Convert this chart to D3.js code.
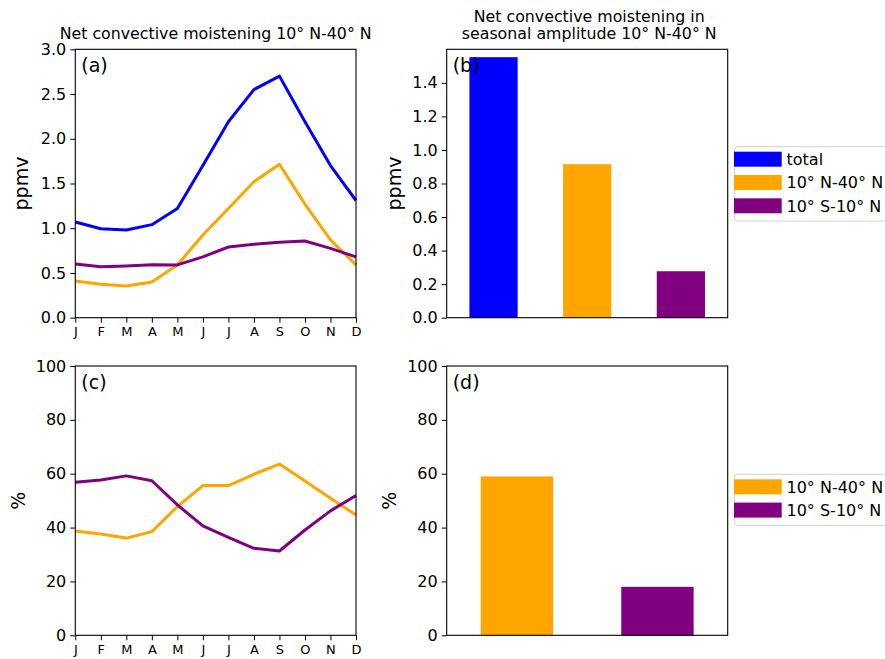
<!DOCTYPE html>
<html>
<head>
<meta charset="utf-8">
<script src="https://cdn.jsdelivr.net/npm/d3@7"></script>
<style>
  body { margin: 0; background: #fff; }
  svg { font-family: "DejaVu Sans", sans-serif; }
  .axis text { fill: #000; }
</style>
</head>
<body>
<div id="chart"></div>
<script>
const months = ["J", "F", "M", "A", "M", "J", "J", "A", "S", "O", "N", "D"];

// (a) net convective moistening, ppmv
const totalPpmv = [1.07, 0.995, 0.98, 1.04, 1.22, 1.70, 2.19, 2.55, 2.70, 2.19, 1.70, 1.31];
const nhPpmv    = [0.41, 0.373, 0.354, 0.40, 0.59, 0.924, 1.22, 1.52, 1.715, 1.27, 0.87, 0.59];
const eqPpmv    = [0.60, 0.57, 0.578, 0.592, 0.59, 0.68, 0.79, 0.82, 0.843, 0.857, 0.775, 0.68];

// (c) contribution, %
const nhPct = [38.7, 37.6, 36.1, 38.5, 47.8, 55.6, 55.6, 59.8, 63.6, 57.3, 50.9, 44.7];
const eqPct = [56.8, 57.7, 59.2, 57.4, 48.4, 40.6, 36.4, 32.3, 31.3, 39.1, 46.2, 51.9];

// (b) and (d) seasonal amplitude
const ampLabels = ["total", "10° N-40° N", "10° S-10° N"];
const ampPpmv = [1.553, 0.915, 0.277];
const pctLabels = ["10° N-40° N", "10° S-10° N"];
const ampPct = [59.0, 18.0];

const colors = { "total": "#0000ff", "10° N-40° N": "#ffa500", "10° S-10° N": "#800080" };

const width = 885, height = 659;

const svg = d3.select("#chart")
    .append("svg")
    .attr("width", width)
    .attr("height", height);

svg.append("rect").attr("width", width).attr("height", height).attr("fill", "#fff");

const panels = {
    a: { x: 75.3, y: 49.3, w: 280.7, h: 268.4 },
    b: { x: 446.7, y: 49.3, w: 281, h: 268.4 },
    c: { x: 75.3, y: 366, w: 280.7, h: 269.3 },
    d: { x: 446.7, y: 366, w: 281, h: 269.3 }
};

const styleAxis = (g, fontSize) => {
    g.select(".domain").remove();
    g.selectAll(".tick line").attr("stroke", "#000").attr("stroke-width", 1);
    g.selectAll(".tick text")
        .attr("font-size", fontSize)
        .attr("font-family", "DejaVu Sans")
        .attr("fill", "#000");
};

const frame = (g, p) => {
    g.append("rect")
        .attr("width", p.w)
        .attr("height", p.h)
        .attr("fill", "none")
        .attr("stroke", "#000")
        .attr("stroke-width", 1.1);
};

const panelLabel = (g, text, dx) => {
    g.append("text")
        .attr("x", dx)
        .attr("y", 23)
        .attr("font-size", "19px")
        .text(text);
};

const yLabel = (text, x, p) => {
    svg.append("text")
        .attr("transform", `translate(${x},${p.y + p.h / 2}) rotate(-90)`)
        .attr("text-anchor", "middle")
        .attr("font-size", "19px")
        .text(text);
};

// ---------- line panels ----------
const drawLines = (p, series, yMax, yTicks, fmt, label) => {
    const g = svg.append("g").attr("transform", `translate(${p.x},${p.y})`);

    const x = d3.scaleLinear().domain([0, 11]).range([0, p.w]);
    const y = d3.scaleLinear().domain([0, yMax]).range([p.h, 0]);

    const line = d3.line()
        .x((d, i) => x(i))
        .y(d => y(d));

    g.selectAll("path.series")
        .data(series)
        .join("path")
        .attr("class", "series")
        .attr("d", s => line(s.values))
        .attr("fill", "none")
        .attr("stroke", s => colors[s.name])
        .attr("stroke-width", 3)
        .attr("stroke-linejoin", "round");

    g.append("g")
        .attr("class", "axis")
        .attr("transform", `translate(0,${p.h})`)
        .call(d3.axisBottom(x)
            .tickValues(d3.range(12))
            .tickFormat(i => months[i])
            .tickSize(5)
            .tickPadding(4))
        .call(ax => styleAxis(ax, "13px"));

    g.append("g")
        .attr("class", "axis")
        .call(d3.axisLeft(y)
            .tickValues(yTicks)
            .tickFormat(d3.format(fmt))
            .tickSize(5)
            .tickPadding(4))
        .call(ax => styleAxis(ax, "16px"));

    frame(g, p);
    panelLabel(g, label, 6);
};

// ---------- bar panels ----------
const drawBars = (p, cats, values, yMax, yTicks, fmt, label) => {
    const g = svg.append("g").attr("transform", `translate(${p.x},${p.y})`);

    const x = d3.scaleBand()
        .domain(cats)
        .range([0, p.w])
        .paddingInner(0.485)
        .paddingOuter(0.2425);
    const y = d3.scaleLinear().domain([0, yMax]).range([p.h, 0]);

    g.selectAll("rect.bar")
        .data(cats)
        .join("rect")
        .attr("class", "bar")
        .attr("x", d => x(d))
        .attr("width", x.bandwidth())
        .attr("y", (d, i) => y(values[i]))
        .attr("height", (d, i) => p.h - y(values[i]))
        .attr("fill", d => colors[d]);

    g.append("g")
        .attr("class", "axis")
        .call(d3.axisLeft(y)
            .tickValues(yTicks)
            .tickFormat(d3.format(fmt))
            .tickSize(5)
            .tickPadding(4))
        .call(ax => styleAxis(ax, "16px"));

    frame(g, p);
    panelLabel(g, label, 6);
};

// ---------- legend ----------
const drawLegend = (items, top) => {
    const lg = svg.append("g").attr("transform", `translate(734.5,${top})`);
    const rowH = 23.3;

    lg.append("rect")
        .attr("x", 0)
        .attr("y", 0)
        .attr("width", 190)
        .attr("height", items.length * rowH + 4.5)
        .attr("rx", 3)
        .attr("fill", "#fff")
        .attr("fill-opacity", 0.8)
        .attr("stroke", "#d0d0d0")
        .attr("stroke-width", 1);

    lg.selectAll("rect.sw")
        .data(items)
        .join("rect")
        .attr("class", "sw")
        .attr("x", -0.5)
        .attr("y", (d, i) => 5 + i * rowH)
        .attr("width", 47.7)
        .attr("height", 15)
        .attr("fill", d => colors[d]);

    lg.selectAll("text")
        .data(items)
        .join("text")
        .attr("x", 52)
        .attr("y", (d, i) => 18.3 + i * rowH)
        .attr("font-size", "16px")
        .text(d => d);
};

drawLines(panels.a,
    [{ name: "total", values: totalPpmv },
     { name: "10° N-40° N", values: nhPpmv },
     { name: "10° S-10° N", values: eqPpmv }],
    3.0, d3.range(0, 3.01, 0.5), ".1f", "(a)");

drawBars(panels.b, ampLabels, ampPpmv, 1.6, d3.range(0, 1.41, 0.2), ".1f", "(b)");

drawLines(panels.c,
    [{ name: "10° N-40° N", values: nhPct },
     { name: "10° S-10° N", values: eqPct }],
    100, d3.range(0, 101, 20), "d", "(c)");

drawBars(panels.d, pctLabels, ampPct, 100, d3.range(0, 101, 20), "d", "(d)");

// titles
svg.append("text")
    .attr("x", panels.a.x + panels.a.w / 2)
    .attr("y", 39.3)
    .attr("text-anchor", "middle")
    .attr("font-size", "15.8px")
    .text("Net convective moistening 10° N-40° N");

const titleB = svg.append("text")
    .attr("x", panels.b.x + panels.b.w / 2 + 2)
    .attr("text-anchor", "middle")
    .attr("font-size", "15.8px");
titleB.append("tspan").attr("x", panels.b.x + panels.b.w / 2 + 2).attr("y", 21.7)
    .text("Net convective moistening in");
titleB.append("tspan").attr("x", panels.b.x + panels.b.w / 2 + 2).attr("y", 39.3)
    .text("seasonal amplitude 10° N-40° N");

// y labels
yLabel("ppmv", 28.3, panels.a);
yLabel("ppmv", 400.5, panels.b);
yLabel("%", 25, panels.c);
yLabel("%", 396, panels.d);

drawLegend(ampLabels, 146.7);
drawLegend(pctLabels, 474.3);
</script>
</body>
</html>
